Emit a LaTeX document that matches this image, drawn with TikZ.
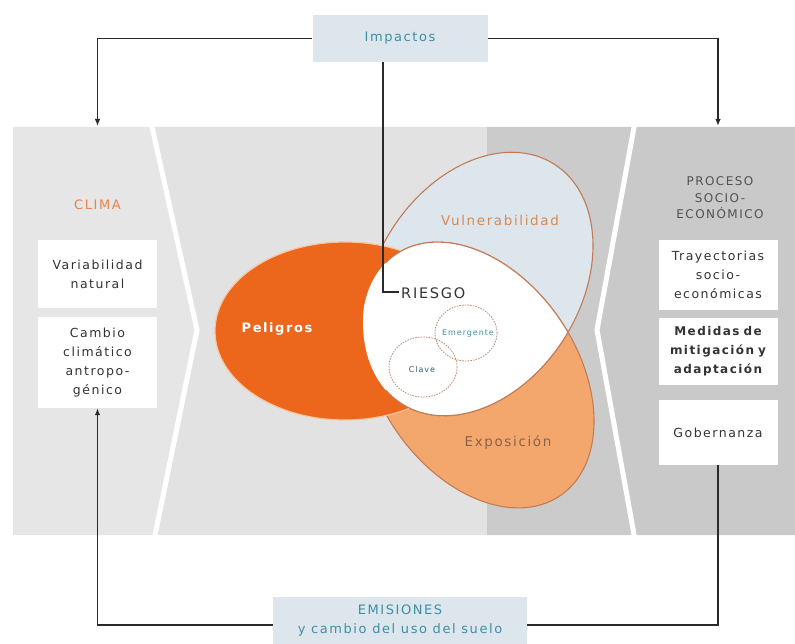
\documentclass[tikz,border=0pt]{standalone}
\usepackage{fontspec}
\setmainfont{DejaVu Sans}
\newfontfamily\lbl[LetterSpace=12]{DejaVu Sans}
\usetikzlibrary{arrows.meta}
\definecolor{panelL}{HTML}{E6E6E6}
\definecolor{panelM}{HTML}{E2E2E2}
\definecolor{panelS}{HTML}{CBCBCB}
\definecolor{panelR}{HTML}{C9C9C9}
\definecolor{boxblue}{HTML}{DCE6EC}
\definecolor{tealC}{HTML}{3F8FA3}
\definecolor{pel}{HTML}{EC661B}
\definecolor{pelhalo}{HTML}{F7C6A0}
\definecolor{expo}{HTML}{F4A76D}
\definecolor{vul}{HTML}{DDE6ED}
\definecolor{edge}{HTML}{C27B55}
\definecolor{vultxt}{HTML}{D98A52}
\definecolor{expotxt}{HTML}{8A6248}
\definecolor{climaC}{HTML}{E8834A}
\definecolor{txt}{HTML}{333333}
\definecolor{lineC}{HTML}{2A2A2A}
\definecolor{dashC}{HTML}{B58A78}
\begin{document}
\begin{tikzpicture}[x=1pt,y=-1pt,font=\lbl,
  box/.style={fill=white, minimum width=119pt, text width=112pt, align=center, inner sep=0pt, text=txt, font=\lbl\fontsize{12.5}{19}\selectfont},
  bluebox/.style={fill=boxblue, inner sep=0pt, align=center, text=tealC, font=\lbl\fontsize{13}{19}\selectfont},
  conn/.style={draw=lineC, line width=1.3pt},
  arr/.style={conn, -{Latex[length=7pt,width=5.5pt]}},
  edgeline/.style={draw=edge, line width=1.1pt},
  ring/.style={draw=dashC, line width=0.8pt, dash pattern=on 1.5pt off 1.2pt},
  vshape/.style={rotate around={57.5:(478,284)}},
  eshape/.style={rotate around={-55.7:(478,375)}}]
\useasboundingbox (0,0) rectangle (795,644);
% background band
\fill[panelL] (13,127) -- (152,127) -- (197,330) -- (155,535) -- (13,535) -- cycle;
\fill[panelM] (152,127) -- (487,127) -- (487,535) -- (155,535) -- (197,330) -- cycle;
\fill[panelS] (487,127) -- (633,127) -- (597,330) -- (633,535) -- (487,535) -- cycle;
\fill[panelR] (633,127) -- (795,127) -- (795,535) -- (633,535) -- (597,330) -- cycle;
\draw[white, line width=5pt] (151,122) -- (197,330) -- (154,540);
\draw[white, line width=5pt] (635,122) -- (597,330) -- (635,540);
% Venn
\fill[vul, vshape] (478,284) ellipse [x radius=142, y radius=102];
\fill[expo, eshape] (478,375) ellipse [x radius=146, y radius=99];
\draw[edgeline, vshape] (478,284) ellipse [x radius=142, y radius=102];
\draw[edgeline, eshape] (478,375) ellipse [x radius=146, y radius=99];
\fill[pel] (345,331) ellipse [x radius=130, y radius=89];
\draw[pelhalo, line width=1.2pt] (345,331) ellipse [x radius=130, y radius=89];
\begin{scope}
  \clip[vshape] (478,284) ellipse [x radius=142, y radius=102];
  \fill[white, eshape] (478,375) ellipse [x radius=146, y radius=99];
\end{scope}
\begin{scope}
  \clip (386,0) rectangle (795,644);
  \begin{scope}
    \clip[vshape] (478,284) ellipse [x radius=142, y radius=102];
    \draw[edgeline, eshape] (478,375) ellipse [x radius=146, y radius=99];
  \end{scope}
  \begin{scope}
    \clip[eshape] (478,375) ellipse [x radius=146, y radius=99];
    \draw[edgeline, vshape] (478,284) ellipse [x radius=142, y radius=102];
  \end{scope}
\end{scope}
\draw[ring] (423,367) ellipse [x radius=34, y radius=30];
\draw[ring] (466,333) ellipse [x radius=31, y radius=28];
\node[text=tealC, font=\lbl\fontsize{8}{9}\selectfont, inner sep=0pt] (emer) at (468,333) {Emergente};
\node[text=tealC!70!black, font=\lbl\fontsize{8}{9}\selectfont, inner sep=0pt] (clave) at (422,370) {Clave};
\node[text=white, font=\lbl\bfseries\fontsize{13}{15}\selectfont] (pelig) at (277,329) {Peligros};
\node[text=vultxt, font=\lbl\fontsize{13.5}{15}\selectfont] (vulT) at (500,220) {Vulnerabilidad};
\node[text=expotxt, font=\lbl\fontsize{13.5}{15}\selectfont] (expoT) at (508,443) {Exposición};
\node[text=txt, font=\lbl\fontsize{14.5}{16}\selectfont, anchor=west, inner sep=2pt] (risk) at (399,293) {RIESGO};
% left column
\node[text=climaC, font=\lbl\fontsize{13}{15}\selectfont] (clima) at (97.5,205) {CLIMA};
\node[box, minimum height=68pt] (var) at (97.5,274) {Variabilidad\\natural};
\node[box, minimum height=91pt] (cam) at (97.5,362.5) {Cambio\\climático\\antropo-\\génico};
% right column
\node[text=txt!85, align=center, font=\lbl\fontsize{12}{16.5}\selectfont] (proc) at (720,198) {PROCESO\\SOCIO-\\ECONÓMICO};
\node[box, minimum height=70pt] (tra) at (718,275) {Trayectorias\\socio-\\económicas};
\node[box, minimum height=67pt, font=\lbl\bfseries\fontsize{12}{19}\selectfont] (med) at (718,351.5) {Medidas de\\mitigación y\\adaptación};
\node[box, minimum height=65pt] (gob) at (718,432.5) {Gobernanza};
% top and bottom boxes
\node[bluebox, minimum width=175pt, minimum height=47pt] (imp) at (400,38.5) {Impactos};
\node[bluebox, minimum width=254pt, minimum height=47pt] (emi) at (400,620.5) {EMISIONES\\y cambio del uso del suelo};
% connectors
\coordinate (clTop) at (97.5,126);
\coordinate (prTop) at (718,126);
\coordinate (rc) at (383,292);
\coordinate (br) at (718,625);
\coordinate (bl) at (97.5,625);
\draw[arr] (imp.west) -| (clTop);
\draw[arr] (imp.east) -| (prTop);
\draw[conn] (imp.south -| rc) -- (rc) -- (rc -| risk.west);
\draw[conn] (gob.south) -- (br) -- (br -| emi.east);
\draw[arr] (bl -| emi.west) -- (bl) -- (cam.south);
\end{tikzpicture}
\end{document}
